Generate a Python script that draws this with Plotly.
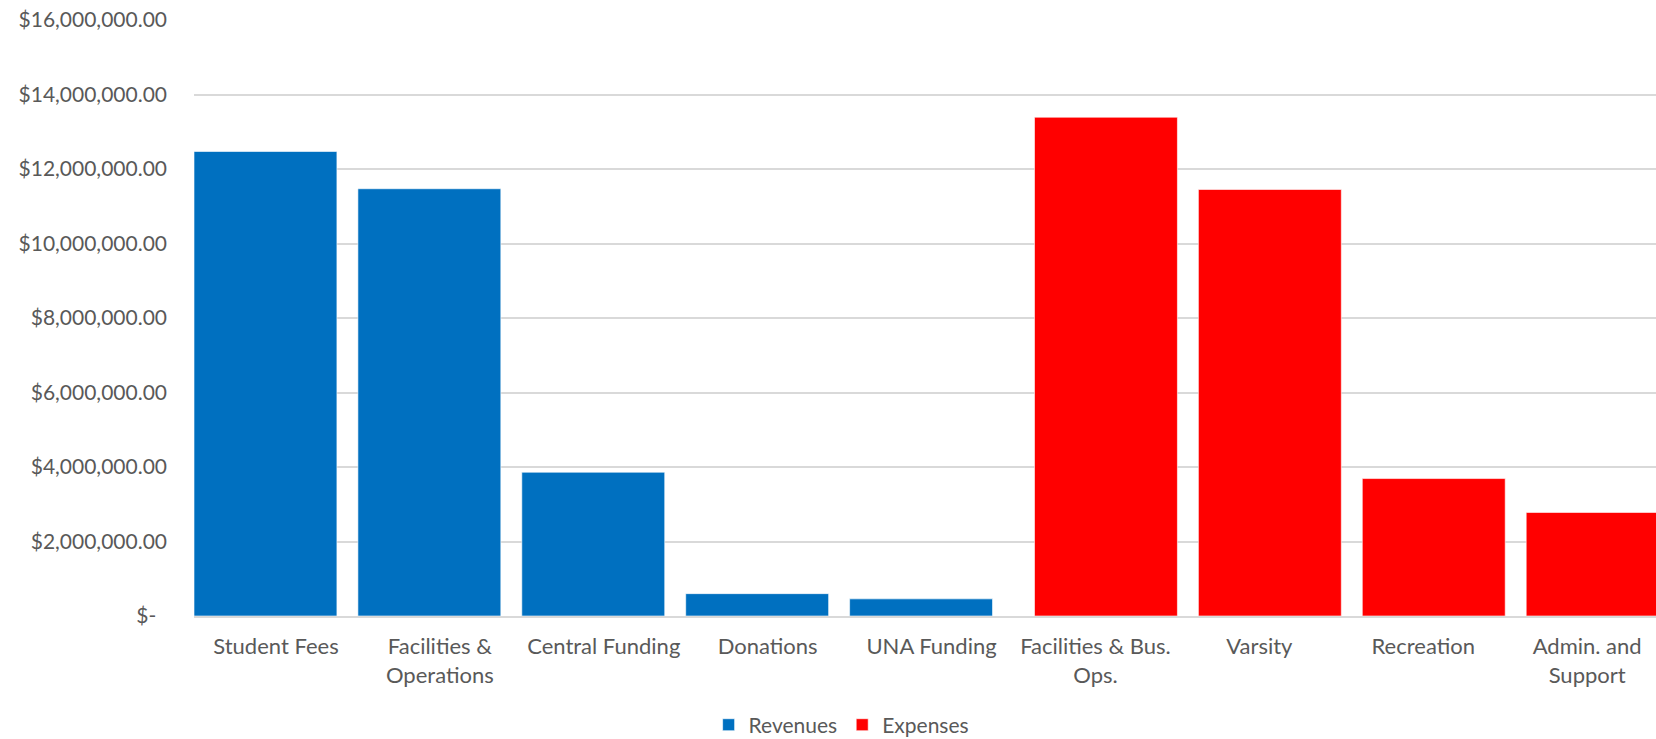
import plotly.graph_objects as go

categories = ["Student Fees", "Facilities &<br>Operations", "Central Funding", "Donations",
              "UNA Funding", "Facilities & Bus.<br>Ops.", "Varsity", "Recreation",
              "Admin. and<br>Support"]
revenue_cats = categories[:5]
revenue_vals = [12470000, 11470000, 3860000, 600000, 460000]
expense_cats = categories[5:]
expense_vals = [13390000, 11450000, 3690000, 2780000]

y_tickvals = [0, 2e6, 4e6, 6e6, 8e6, 10e6, 12e6, 14e6, 16e6]
y_ticktext = ["$-\u00a0\u00a0", "$2,000,000.00", "$4,000,000.00", "$6,000,000.00",
              "$8,000,000.00", "$10,000,000.00", "$12,000,000.00", "$14,000,000.00",
              "$16,000,000.00"]

FONT = "Lato"
TXT = "#595959"
W, H = 1656, 739
L, T, B = 194, 20, 123

fig = go.Figure()
fig.add_trace(go.Bar(x=revenue_cats, y=revenue_vals, name="Revenues",
                     marker=dict(color="#0070C0", line=dict(color="#ffffff", width=0.6)),
                     width=0.872, offset=-0.5))
fig.add_trace(go.Bar(x=expense_cats, y=expense_vals, name="Expenses",
                     marker=dict(color="#FF0000", line=dict(color="#ffffff", width=0.6)),
                     width=0.872, offset=-0.372))

fig.update_layout(
    width=W, height=H,
    margin=dict(l=L, r=0, t=T, b=B, autoexpand=False),
    paper_bgcolor="white", plot_bgcolor="white",
    barmode="overlay",
    font=dict(family=FONT, color=TXT, size=21),
    showlegend=True,
    legend=dict(orientation="h", x=0.352, xanchor="left", y=-0.183, yanchor="middle",
                font=dict(family=FONT, size=21, color=TXT), bgcolor="rgba(0,0,0,0)",
                itemwidth=30, traceorder="normal"),
    xaxis=dict(type="category", categoryorder="array", categoryarray=categories,
               range=[-0.5, 8.42], showgrid=False, showline=True, linecolor="#d9d9d9",
               linewidth=2, ticks="", tickfont=dict(family=FONT, size=22, color=TXT),
               ticklabelstandoff=10, fixedrange=True),
    yaxis=dict(range=[0, 16e6], tickmode="array", tickvals=y_tickvals, ticktext=y_ticktext,
               showgrid=True, gridcolor="#d9d9d9", gridwidth=1.5, zeroline=False,
               showline=False, ticks="", tickfont=dict(family=FONT, size=21, color=TXT),
               ticklabelstandoff=26, fixedrange=True),
)

fig.write_html("out.html")
